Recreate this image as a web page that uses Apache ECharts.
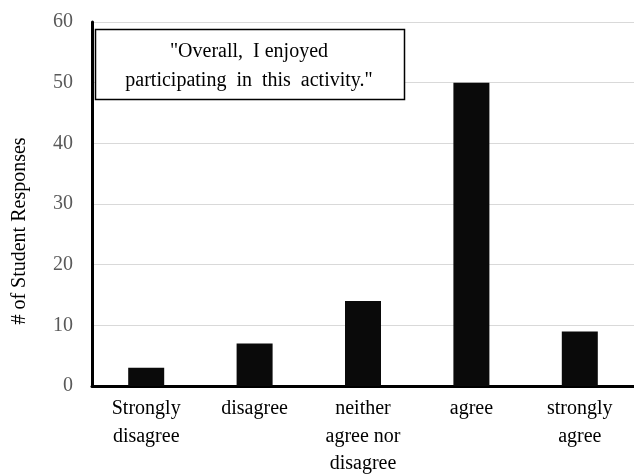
<!DOCTYPE html>
<html>
<head>
<meta charset="utf-8">
<script src="https://cdn.jsdelivr.net/npm/echarts@6/dist/echarts.min.js"></script>
<style>html,body{margin:0;padding:0;background:#fff;}#c{width:634px;height:474px;}</style>
</head>
<body>
<div id="c"></div>
<script>
const categories = ['Strongly\ndisagree', 'disagree', 'neither\nagree nor\ndisagree', 'agree', 'strongly\nagree'];
const responses = [3, 7, 14, 50, 9];
const yTicks = { min: 0, max: 60, interval: 10 };
const yTitle = '# of Student Responses';
const boxText = '"Overall,  I enjoyed\nparticipating  in  this  activity."';

const font = '"Liberation Serif", "Times New Roman", serif';
const chart = echarts.init(document.getElementById('c'), null, { renderer: 'canvas' });
chart.setOption({
  animation: false,
  backgroundColor: '#fff',
  grid: { left: 92, right: 0, top: 22, bottom: 88, containLabel: false, outerBoundsMode: 'none' },
  xAxis: {
    type: 'category',
    data: categories,
    axisLine: { lineStyle: { color: '#000', width: 3 } },
    axisTick: { show: false },
    axisLabel: { color: '#000', fontFamily: font, fontSize: 20, lineHeight: 27.5, margin: 9, interval: 0 }
  },
  yAxis: {
    type: 'value',
    min: yTicks.min, max: yTicks.max, interval: yTicks.interval,
    axisLine: { show: true, lineStyle: { color: '#000', width: 3 } },
    axisTick: { show: false },
    axisLabel: { color: '#595959', fontFamily: font, fontSize: 20, margin: 19 },
    splitLine: { lineStyle: { color: '#d9d9d9', width: 1 } }
  },
  series: [{
    type: 'bar',
    data: responses,
    barWidth: 36,
    itemStyle: { color: '#0a0a0a' }
  }],
  graphic: [
    {
      type: 'text',
      x: 20, y: 231, rotation: Math.PI / 2,
      style: { text: yTitle, font: '20px ' + font, fill: '#000', textAlign: 'center', textVerticalAlign: 'middle' }
    },
    {
      type: 'rect',
      shape: { x: 95.5, y: 29.5, width: 309, height: 70 },
      style: { fill: '#fff', stroke: '#000', lineWidth: 1.5 },
      z: 10
    },
    {
      type: 'text',
      x: 249, y: 66.5,
      style: { text: boxText, font: '20px ' + font, fill: '#000', textAlign: 'center', textVerticalAlign: 'middle', lineHeight: 29 },
      z: 11
    }
  ]
});
</script>
</body>
</html>
